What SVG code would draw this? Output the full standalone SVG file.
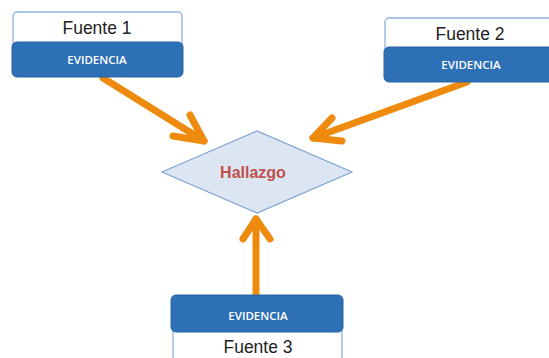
<svg xmlns="http://www.w3.org/2000/svg" width="549" height="358" viewBox="0 0 549 358">
<style>
.wbox{fill:#ffffff;stroke:#8fb3df;stroke-width:1.3}
.bbox{fill:#2e70b6;stroke:#2a64a3;stroke-width:1}
.ftxt{font-family:"Liberation Sans",Arial,sans-serif;font-size:17.5px;fill:#222222;text-anchor:middle}
.etxt{font-family:"Open Sans","Liberation Sans",sans-serif;font-size:11.5px;font-weight:600;fill:#ffffff;text-anchor:middle}
.arr{fill:none;stroke:#ee8a0e;stroke-width:7;stroke-linecap:round;stroke-linejoin:round}
</style>
<rect width="549" height="358" fill="#ffffff"/>
<g id="connectors">
<path class="arr" d="M103,78 L204,141"/>
<path class="arr" d="M190,115 L204,141 L173,136"/>
<path class="arr" d="M467,82 L313,138"/>
<path class="arr" d="M332,118 L313,138 L342,141"/>
<path class="arr" d="M256,295 L256,219"/>
<path class="arr" d="M243,239 L256,219 L270,239"/>
</g>
<g id="hallazgo">
<polygon points="162,172 257,131 352,172 257,213" fill="#dce6f2" stroke="#7ea2cf" stroke-width="1.2"/>
<text x="253" y="178" font-family="'Liberation Sans',Arial,sans-serif" font-size="16" font-weight="bold" fill="#c0504d" text-anchor="middle">Hallazgo</text>
</g>
<g id="fuente1">
<rect class="wbox" x="13" y="12" width="169" height="38" rx="4"/>
<text class="ftxt" x="97" y="34">Fuente 1</text>
<rect class="bbox" x="12" y="42" width="171" height="35" rx="5"/>
<text class="etxt" x="97" y="64">EVIDENCIA</text>
</g>
<g id="fuente2">
<rect class="wbox" x="385" y="18" width="172" height="36" rx="4"/>
<text class="ftxt" x="470" y="40">Fuente 2</text>
<rect class="bbox" x="384" y="47" width="174" height="35" rx="5"/>
<text class="etxt" x="471" y="69">EVIDENCIA</text>
</g>
<g id="fuente3">
<rect class="wbox" x="173" y="326" width="169" height="38" rx="4"/>
<text class="ftxt" x="258" y="353">Fuente 3</text>
<rect class="bbox" x="171" y="295" width="172" height="37" rx="5"/>
<text class="etxt" x="258" y="319.5">EVIDENCIA</text>
</g>
</svg>
